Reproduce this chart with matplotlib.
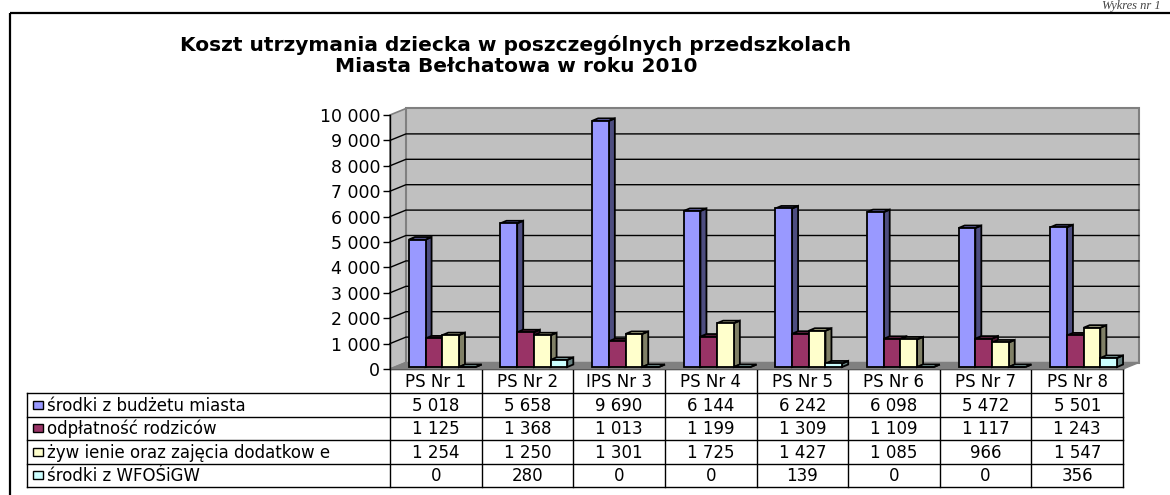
import matplotlib
matplotlib.use("Agg")
import matplotlib.pyplot as plt
from matplotlib.patches import Polygon, Rectangle

# koszt utrzymania dziecka w przedszkolach, 2010
categories = ["PS Nr 1", "PS Nr 2", "IPS Nr 3", "PS Nr 4", "PS Nr 5", "PS Nr 6", "PS Nr 7", "PS Nr 8"]
series_names = ["środki z budżetu miasta", "odpłatność rodziców",
                "żyw ienie oraz zajęcia dodatkow e", "środki z WFOŚiGW"]
budzet = [5018, 5658, 9690, 6144, 6242, 6098, 5472, 5501]
odplatnosc = [1125, 1368, 1013, 1199, 1309, 1109, 1117, 1243]
zywienie = [1254, 1250, 1301, 1725, 1427, 1085, 966, 1547]
wfos = [0, 280, 0, 0, 139, 0, 0, 356]
y_ticks = list(range(0, 10001, 1000))

series = [budzet, odplatnosc, zywienie, wfos]
# front / side / top
palette = [("#9999FF", "#4D4D80", "#7A7ACC"),
           ("#993366", "#4D1A33", "#7A2952"),
           ("#FFFFCC", "#808066", "#CCCCA3"),
           ("#CCFFFF", "#668080", "#A3CCCC")]

FONT = "DejaVu Sans"
plt.rcParams["font.family"] = [FONT]


def fmt(v):
    return f"{v:,}".replace(",", " ")


W, H = 1170, 495
fig = plt.figure(figsize=(W / 100, H / 100), dpi=100)

# warstwa tła w pikselach: ramka, tytuł, tabela danych
bg = fig.add_axes([0, 0, 1, 1])
bg.set_xlim(0, W)
bg.set_ylim(H, 0)
bg.axis("off")

bg.add_patch(Rectangle((10, 13), 1200, 500, fill=False, ec="black", lw=1.6))
bg.text(516, 45, "Koszt utrzymania dziecka w poszczególnych przedszkolach",
        ha="center", va="center", fontsize=14.5, weight="bold")
bg.text(516, 67, "Miasta Bełchatowa w roku 2010",
        ha="center", va="center", fontsize=14.5, weight="bold")
bg.text(1102, 0.5, "Wykres nr 1", ha="left", va="top", fontsize=9,
        style="italic", family=["Liberation Serif"], color="#444444")

# obszar wykresu
AX_L, AX_R, AX_B, AX_T = 390, 1123, 369, 115
n = len(categories)
ax = fig.add_axes([AX_L / W, 1 - AX_B / H, (AX_R - AX_L) / W, (AX_B - AX_T) / H])
ax.set_xlim(0, n)
ax.set_ylim(0, 10000)
ax.patch.set_visible(False)
for sp in ["top", "right", "bottom"]:
    ax.spines[sp].set_visible(False)
ax.spines["left"].set_linewidth(1.0)
ax.set_xticks([])
ax.set_yticks(y_ticks)
ax.set_yticklabels([fmt(v) for v in y_ticks], fontsize=12.5)
ax.tick_params(axis="y", direction="out", length=5, width=1, pad=2)

ux = n / (AX_R - AX_L)
uy = 10000 / (AX_B - AX_T)
DX, DY = 16 * ux, 6.5 * uy  # głębokość ścian

wall = "#C0C0C0"
ax.add_patch(Polygon([(0, 0), (DX, DY), (DX, 10000 + DY), (0, 10000)],
                     closed=True, fc=wall, ec="#808080", lw=1.2, clip_on=False, zorder=0.5))
ax.add_patch(Rectangle((DX, DY), n, 10000, fc=wall, ec="#808080", lw=1.5,
                       clip_on=False, zorder=0.5))
ax.add_patch(Polygon([(0, 0), (n, 0), (n + DX, DY), (DX, DY)],
                     closed=True, fc="#808080", ec="#808080", lw=1, clip_on=False, zorder=0.6))
for v in y_ticks[1:-1]:
    ax.plot([0, DX, n + DX], [v, v + DY, v + DY], color="black", lw=1.0,
            clip_on=False, zorder=1)

# słupki 3D
bw = 16.7 * ux
off0 = 0.206
bdx, bdy = 6 * ux, 2.5 * uy
base = 2 * uy
for s, (vals, (front, side, top)) in enumerate(zip(series, palette)):
    xs = [i + off0 + s * bw for i in range(n)]
    z = 3 + s
    ax.bar(xs, vals, width=bw, bottom=base, align="edge", color=front,
           edgecolor="black", linewidth=1.3, zorder=z + 0.5, clip_on=False)
    for x, v in zip(xs, vals):
        y1 = base + v
        ax.add_patch(Polygon([(x + bw, base), (x + bw + bdx, base + bdy),
                              (x + bw + bdx, y1 + bdy), (x + bw, y1)],
                             closed=True, fc=side, ec="black", lw=1.3,
                             clip_on=False, zorder=z))
        ax.add_patch(Polygon([(x, y1), (x + bdx, y1 + bdy),
                              (x + bw + bdx, y1 + bdy), (x + bw, y1)],
                             closed=True, fc=top, ec="black", lw=1.3,
                             clip_on=False, zorder=z))

# tabela danych pod wykresem
col_w = (AX_R - AX_L) / n
cols = [AX_L + i * col_w for i in range(n + 1)]
rows = [369, 393, 416.5, 440, 463.5, 487]
LEG_L = 27
line_kw = dict(color="black", lw=1.0)
bg.plot([AX_L, AX_R], [rows[0], rows[0]], **line_kw)
for y in rows[1:]:
    bg.plot([LEG_L, AX_R], [y, y], **line_kw)
for x in cols:
    bg.plot([x, x], [rows[0], rows[-1]], **line_kw)
bg.plot([LEG_L, LEG_L], [rows[1], rows[-1]], **line_kw)

for i, cat in enumerate(categories):
    bg.text((cols[i] + cols[i + 1]) / 2, (rows[0] + rows[1]) / 2 + 1, cat,
            ha="center", va="center", fontsize=12)
for r, (name, vals, (front, _, _)) in enumerate(zip(series_names, series, palette)):
    yc = (rows[r + 1] + rows[r + 2]) / 2
    bg.add_patch(Rectangle((33, yc - 4), 10, 8, fc=front, ec="black", lw=1.0))
    bg.text(47, yc + 1, name, ha="left", va="center", fontsize=12)
    for i, v in enumerate(vals):
        bg.text((cols[i] + cols[i + 1]) / 2, yc + 1, fmt(v),
                ha="center", va="center", fontsize=12)

fig.savefig("out.png", dpi=100)
